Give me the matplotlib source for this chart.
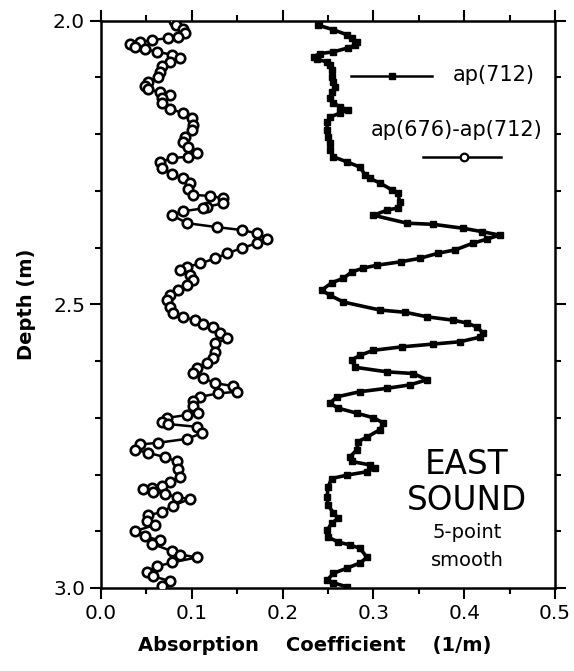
import matplotlib
matplotlib.use("Agg")
import matplotlib.pyplot as plt
from matplotlib.ticker import MultipleLocator

plt.rcParams['font.family'] = ['DejaVu Sans']

# ap(712) series: depth (m) and absorption (1/m)
depth_712 = [2.000, 2.008, 2.016, 2.025, 2.031, 2.038, 2.043, 2.048, 2.055, 2.058,
             2.064, 2.068, 2.073, 2.078, 2.087, 2.099, 2.108, 2.117, 2.126, 2.136,
             2.145, 2.152, 2.157, 2.163, 2.170, 2.179, 2.193, 2.205, 2.216, 2.228,
             2.240, 2.249, 2.258, 2.272, 2.278, 2.286, 2.298, 2.304, 2.320, 2.330,
             2.334, 2.343, 2.357, 2.359, 2.366, 2.372, 2.378, 2.385, 2.392, 2.404,
             2.410, 2.419, 2.425, 2.431, 2.436, 2.443, 2.454, 2.462, 2.475, 2.484,
             2.496, 2.510, 2.514, 2.522, 2.528, 2.533, 2.540, 2.551, 2.558, 2.566,
             2.570, 2.575, 2.581, 2.590, 2.598, 2.611, 2.619, 2.622, 2.633, 2.642,
             2.648, 2.654, 2.663, 2.674, 2.683, 2.692, 2.700, 2.709, 2.721, 2.734,
             2.742, 2.756, 2.769, 2.777, 2.783, 2.788, 2.795, 2.801, 2.807, 2.822,
             2.840, 2.854, 2.868, 2.877, 2.886, 2.898, 2.910, 2.919, 2.924, 2.930,
             2.946, 2.956, 2.965, 2.974, 2.986, 2.991, 2.998]
ap712 = [0.240, 0.239, 0.256, 0.271, 0.276, 0.282, 0.280, 0.272, 0.256, 0.241,
         0.234, 0.238, 0.249, 0.252, 0.254, 0.254, 0.256, 0.258, 0.254, 0.252,
         0.256, 0.263, 0.272, 0.263, 0.252, 0.249, 0.249, 0.250, 0.252, 0.252,
         0.256, 0.271, 0.285, 0.291, 0.296, 0.307, 0.320, 0.327, 0.329, 0.327,
         0.315, 0.300, 0.337, 0.366, 0.399, 0.420, 0.439, 0.425, 0.410, 0.390,
         0.371, 0.351, 0.330, 0.304, 0.289, 0.276, 0.267, 0.254, 0.243, 0.252,
         0.267, 0.307, 0.335, 0.359, 0.388, 0.403, 0.414, 0.421, 0.417, 0.395,
         0.366, 0.331, 0.300, 0.285, 0.276, 0.280, 0.315, 0.344, 0.359, 0.340,
         0.315, 0.285, 0.260, 0.252, 0.261, 0.282, 0.300, 0.311, 0.307, 0.293,
         0.283, 0.282, 0.274, 0.276, 0.296, 0.302, 0.293, 0.271, 0.254, 0.250,
         0.249, 0.250, 0.256, 0.261, 0.254, 0.249, 0.250, 0.261, 0.274, 0.285,
         0.293, 0.285, 0.271, 0.256, 0.249, 0.256, 0.271]

# ap(676)-ap(712) series
depth_diff = [2.000, 2.008, 2.015, 2.022, 2.028, 2.031, 2.034, 2.038, 2.041, 2.047,
              2.050, 2.055, 2.060, 2.066, 2.072, 2.080, 2.090, 2.100, 2.108, 2.115,
              2.121, 2.126, 2.131, 2.137, 2.145, 2.155, 2.163, 2.172, 2.184, 2.193,
              2.205, 2.214, 2.223, 2.233, 2.240, 2.242, 2.250, 2.260, 2.270, 2.278,
              2.286, 2.297, 2.307, 2.309, 2.313, 2.322, 2.328, 2.331, 2.336, 2.343,
              2.357, 2.364, 2.369, 2.375, 2.384, 2.392, 2.401, 2.410, 2.419, 2.428,
              2.434, 2.439, 2.448, 2.457, 2.466, 2.475, 2.484, 2.493, 2.505, 2.516,
              2.522, 2.528, 2.534, 2.540, 2.551, 2.560, 2.569, 2.584, 2.595, 2.604,
              2.612, 2.621, 2.630, 2.639, 2.644, 2.654, 2.657, 2.663, 2.670, 2.680,
              2.692, 2.695, 2.700, 2.707, 2.711, 2.716, 2.727, 2.737, 2.744, 2.747,
              2.756, 2.762, 2.769, 2.777, 2.791, 2.805, 2.814, 2.820, 2.823, 2.826,
              2.830, 2.834, 2.840, 2.843, 2.855, 2.866, 2.872, 2.882, 2.889, 2.900,
              2.909, 2.916, 2.922, 2.935, 2.941, 2.946, 2.955, 2.962, 2.971, 2.979,
              2.988, 2.996]
ap_diff = [0.080, 0.083, 0.090, 0.093, 0.085, 0.074, 0.056, 0.043, 0.032, 0.037,
           0.048, 0.062, 0.078, 0.087, 0.076, 0.067, 0.065, 0.063, 0.052, 0.048,
           0.052, 0.065, 0.076, 0.067, 0.067, 0.076, 0.090, 0.100, 0.101, 0.100,
           0.093, 0.090, 0.096, 0.106, 0.096, 0.078, 0.065, 0.067, 0.078, 0.090,
           0.098, 0.096, 0.101, 0.120, 0.134, 0.134, 0.117, 0.112, 0.090, 0.078,
           0.095, 0.128, 0.155, 0.172, 0.183, 0.172, 0.155, 0.139, 0.126, 0.109,
           0.095, 0.087, 0.098, 0.101, 0.095, 0.085, 0.076, 0.073, 0.076, 0.079,
           0.090, 0.104, 0.112, 0.123, 0.131, 0.139, 0.126, 0.126, 0.123, 0.117,
           0.106, 0.101, 0.112, 0.126, 0.145, 0.150, 0.129, 0.109, 0.101, 0.101,
           0.107, 0.095, 0.073, 0.067, 0.074, 0.106, 0.111, 0.095, 0.063, 0.043,
           0.037, 0.052, 0.070, 0.084, 0.085, 0.087, 0.076, 0.067, 0.056, 0.046,
           0.057, 0.070, 0.084, 0.098, 0.079, 0.067, 0.052, 0.051, 0.059, 0.037,
           0.048, 0.065, 0.056, 0.078, 0.087, 0.106, 0.078, 0.062, 0.051, 0.057,
           0.076, 0.067]

x_ticks = [0.0, 0.1, 0.2, 0.3, 0.4, 0.5]
y_ticks = [2.0, 2.5, 3.0]

fig = plt.figure(figsize=(5.74, 6.71), dpi=100)
ax = fig.add_axes([0.176, 0.1237, 0.791, 0.8455])

ax.plot(ap712, depth_712, color='black', lw=2.6, marker='s', ms=4.2,
        mfc='black', mec='black', zorder=3)
ax.plot(ap_diff, depth_diff, color='black', lw=1.8, marker='o', ms=6.8,
        mfc='white', mec='black', mew=1.9, zorder=3)

ax.set_xlim(0.0, 0.5)
ax.set_ylim(3.0, 2.0)
ax.set_xticks(x_ticks)
ax.set_xticklabels([f"{v:.1f}" for v in x_ticks])
ax.set_yticks(y_ticks)
ax.set_yticklabels([f"{v:.1f}" for v in y_ticks])
ax.xaxis.set_minor_locator(MultipleLocator(0.05))
ax.yaxis.set_minor_locator(MultipleLocator(0.1))
ax.tick_params(which='both', direction='out', top=True, right=True,
               labeltop=False, labelright=False, width=1.5, labelsize=14.5)
ax.tick_params(which='major', length=8)
ax.tick_params(which='minor', length=4)
for s in ax.spines.values():
    s.set_linewidth(1.8)

ax.set_xlabel("Absorption    Coefficient    (1/m)", fontsize=14,
              fontweight='bold', labelpad=18)
ax.xaxis.set_label_coords(0.47, -0.085)
ax.set_ylabel("Depth (m)", fontsize=14, fontweight='bold', labelpad=12)

# in-plot legend
ax.plot([0.275, 0.365], [2.098, 2.098], color='black', lw=1.8)
ax.plot([0.320], [2.098], marker='s', ms=4.5, color='black')
ax.text(0.387, 2.095, "ap(712)", fontsize=15, va='center', ha='left')
ax.text(0.297, 2.193, "ap(676)-ap(712)", fontsize=15, va='center', ha='left')
ax.plot([0.355, 0.440], [2.240, 2.240], color='black', lw=1.8)
ax.plot([0.400], [2.240], marker='o', ms=5.5, mfc='white', mec='black', mew=1.6)

ax.text(0.403, 2.783, "EAST", fontsize=23.5, ha='center', va='center')
ax.text(0.403, 2.845, "SOUND", fontsize=23.5, ha='center', va='center')
ax.text(0.403, 2.903, "5-point", fontsize=14, ha='center', va='center')
ax.text(0.403, 2.951, "smooth", fontsize=14, ha='center', va='center')

fig.savefig("out.png", dpi=100)
